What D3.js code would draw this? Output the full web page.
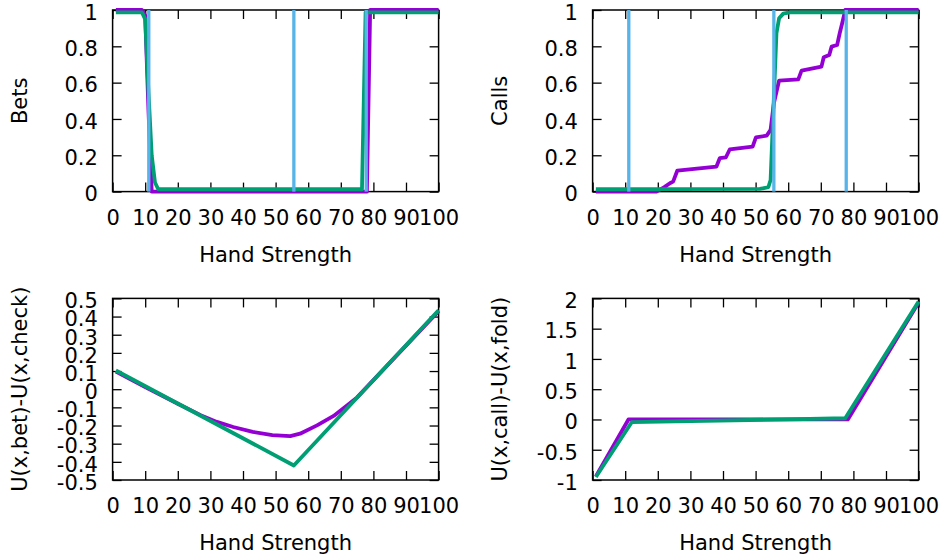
<!DOCTYPE html>
<html><head><meta charset="utf-8">
<script src="https://cdn.jsdelivr.net/npm/d3@7"></script>
<style>
body{margin:0;background:#fff}
svg{display:block}
text{font-family:"DejaVu Sans",sans-serif;font-size:21px;fill:#000}
</style>
</head><body><svg id="c" width="944" height="558"></svg>
<script>
// ---- tick values / labels ----
const handTicks = [0,10,20,30,40,50,60,70,80,90,100];
const probTicks = [0,0.2,0.4,0.6,0.8,1];
const probTickLabels = ["0","0.2","0.4","0.6","0.8","1"];
const betGainTicks = [-0.5,-0.4,-0.3,-0.2,-0.1,0,0.1,0.2,0.3,0.4,0.5];
const betGainTickLabels = ["-0.5","-0.4","-0.3","-0.2","-0.1","0","0.1","0.2","0.3","0.4","0.5"];
const callGainTicks = [-1,-0.5,0,0.5,1,1.5,2];
const callGainTickLabels = ["-1","-0.5","0","0.5","1","1.5","2"];
const thresholds = [11.1, 55.6, 77.8];

// ---- Bets ----
const betsPurpleX = [1, 9, 10, 11, 12, 78, 79, 100];
const betsPurpleY = [1, 1, 0.97, 0.45, 0, 0, 1, 1];
const betsGreenX = [1, 9, 10, 11, 12, 13, 14, 76.5, 77.6, 100];
const betsGreenY = [0.987, 0.987, 0.95, 0.55, 0.2, 0.05, 0.013, 0.013, 0.987, 0.987];

// ---- Calls ----
const callsPurpleX = [1, 19.6, 22, 23.7, 24.7, 26.0, 38.0, 39.0, 40.9, 42.1, 49.1, 50.1, 53.4, 54.6, 55.6, 57.2, 63.1, 64.1, 70.2, 70.9, 72.6, 73.3, 75.0, 75.8, 76.8, 77.5, 100];
const callsPurpleY = [0, 0, 0.025, 0.046, 0.055, 0.116, 0.138, 0.184, 0.189, 0.233, 0.248, 0.299, 0.308, 0.34, 0.486, 0.611, 0.618, 0.666, 0.688, 0.74, 0.752, 0.798, 0.807, 0.872, 0.945, 1, 1];
const callsGreenX = [1, 51.3, 53.9, 54.6, 55.5, 56.4, 57.2, 58.5, 60.5, 100];
const callsGreenY = [0.013, 0.015, 0.024, 0.064, 0.47, 0.872, 0.954, 0.98, 0.987, 0.987];

// ---- U(x,bet)-U(x,check) ----
const betGainPurpleX = [1, 10, 20, 27, 32, 37, 43, 49, 54.5, 57.5, 62.7, 67.8, 72, 75, 100];
const betGainPurpleY = [0.097, 0.012, -0.08, -0.143, -0.18, -0.208, -0.235, -0.253, -0.258, -0.245, -0.199, -0.147, -0.088, -0.045, 0.43];
const betGainGreenX = [1, 55.6, 100];
const betGainGreenY = [0.103, -0.42, 0.435];

// ---- U(x,call)-U(x,fold) ----
const callGainPurpleX = [1, 11, 78.3, 100];
const callGainPurpleY = [-0.94, 0.0, 0.0, 1.93];
const callGainGreenX = [1, 12, 77.5, 100];
const callGainGreenY = [-0.95, -0.045, 0.02, 1.95];

const PURPLE = "#9400D3", GREEN = "#009E73", BLUE = "#56B4E9";

const svg = d3.select("#c");
const W = 326, H = 181.6;

function panel(opt){
  const g = svg.append("g").attr("transform", `translate(${opt.left},${opt.top})`);
  const x = d3.scaleLinear().domain([0,100]).range([0,W]);
  const y = d3.scaleLinear().domain(opt.yDomain).range([H,0]);

  // frame
  g.append("rect").attr("x",0).attr("y",0).attr("width",W).attr("height",H)
    .attr("fill","none").attr("stroke","#000").attr("stroke-width",1.5);

  const styleAxis = sel => {
    sel.select(".domain").remove();
    sel.selectAll("line").attr("stroke-width",1.3);
  };
  // bottom axis
  const ab = g.append("g").attr("transform",`translate(0,${H})`)
    .call(d3.axisBottom(x).tickValues(handTicks).tickSize(-9).tickFormat(d3.format("d")));
  styleAxis(ab);
  ab.selectAll("text").attr("y",33.3).attr("dy",null);
  // top mirror
  const at = g.append("g").call(d3.axisTop(x).tickValues(handTicks).tickSize(-9).tickFormat(""));
  styleAxis(at);
  // left axis
  const al = g.append("g")
    .call(d3.axisLeft(y).tickValues(opt.yTicks).tickSize(-9).tickFormat((d,i)=>opt.yLabels[i]));
  styleAxis(al);
  al.selectAll("text").attr("x",-14.8).attr("dy",null).attr("y",9.3);
  // right mirror
  const ar = g.append("g").attr("transform",`translate(${W},0)`)
    .call(d3.axisRight(y).tickValues(opt.yTicks).tickSize(-9).tickFormat(""));
  styleAxis(ar);

  // axis labels
  g.append("text").attr("x",W/2).attr("y",H+70).attr("text-anchor","middle").text("Hand Strength");
  g.append("text").attr("transform",`translate(${-86},${H/2}) rotate(-90)`)
    .attr("text-anchor","middle").text(opt.ylabel);

  const line = d3.line().x(d=>x(d[0])).y(d=>y(d[1]));
  opt.series.forEach(s=>{
    const pts = s.xs.map((v,i)=>[v,s.ys[i]]);
    g.append("path").attr("d",line(pts)).attr("fill","none")
      .attr("stroke",s.color).attr("stroke-width",s.w||3.8)
      .attr("stroke-linejoin","round").attr("stroke-linecap","butt");
  });
  if(opt.thresholds){
    opt.thresholds.forEach(t=>{
      g.append("path").attr("d",line([[t,opt.yDomain[0]],[t,opt.yDomain[1]]]))
        .attr("fill","none").attr("stroke",BLUE).attr("stroke-width",3.3);
    });
  }
}

panel({left:112.6, top:10, yDomain:[0,1], yTicks:probTicks, yLabels:probTickLabels, ylabel:"Bets",
  series:[{xs:betsPurpleX, ys:betsPurpleY, color:PURPLE},{xs:betsGreenX, ys:betsGreenY, color:GREEN}],
  thresholds:thresholds});
panel({left:592.6, top:10, yDomain:[0,1], yTicks:probTicks, yLabels:probTickLabels, ylabel:"Calls",
  series:[{xs:callsPurpleX, ys:callsPurpleY, color:PURPLE},{xs:callsGreenX, ys:callsGreenY, color:GREEN}],
  thresholds:thresholds});
panel({left:112.6, top:298.4, yDomain:[-0.5,0.5], yTicks:betGainTicks, yLabels:betGainTickLabels, ylabel:"U(x,bet)-U(x,check)",
  series:[{xs:betGainPurpleX, ys:betGainPurpleY, color:PURPLE},{xs:betGainGreenX, ys:betGainGreenY, color:GREEN}]});
panel({left:592.6, top:298.4, yDomain:[-1,2], yTicks:callGainTicks, yLabels:callGainTickLabels, ylabel:"U(x,call)-U(x,fold)",
  series:[{xs:callGainPurpleX, ys:callGainPurpleY, color:PURPLE},{xs:callGainGreenX, ys:callGainGreenY, color:GREEN}]});
</script>
</body></html>
